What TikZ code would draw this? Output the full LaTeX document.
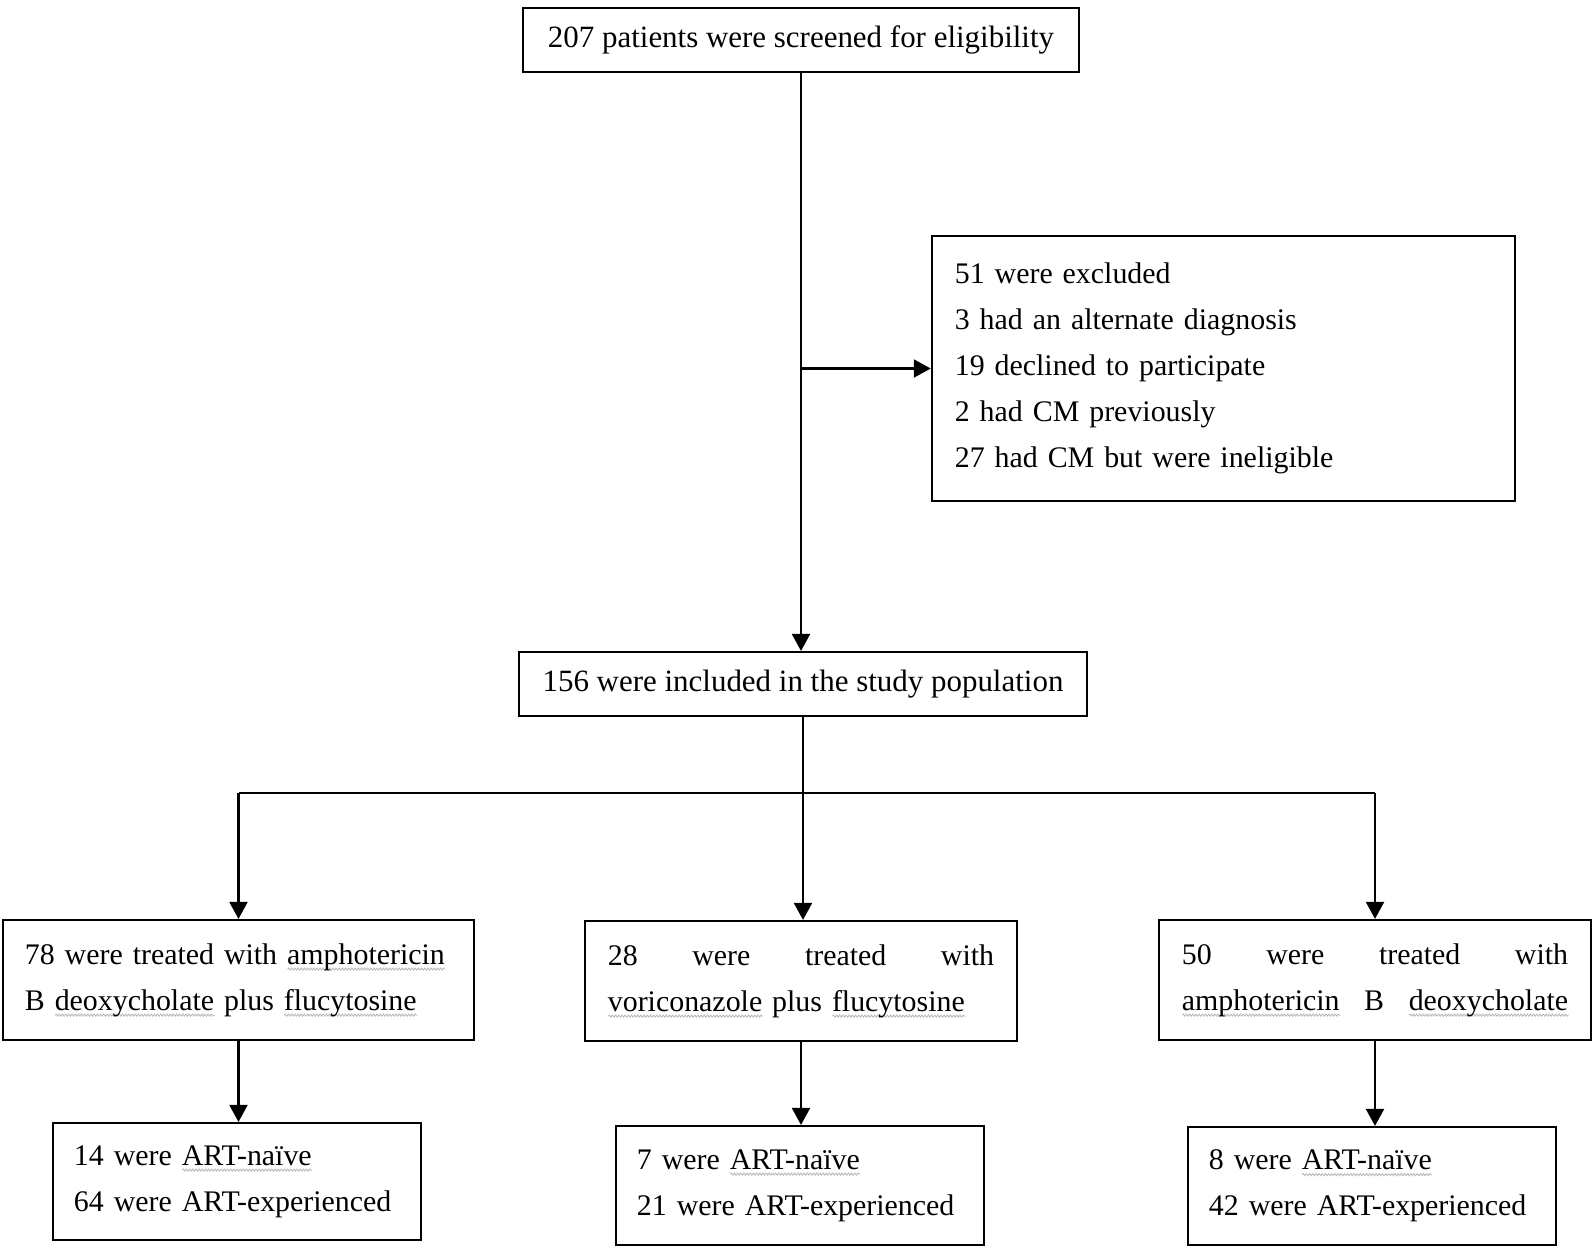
\documentclass[tikz,border=0pt]{standalone}
\usepackage{fontspec}
\setmainfont{Liberation Serif}
\usetikzlibrary{arrows.meta, decorations.pathmorphing}

\newlength\splen
\newcommand\spchk[1]{\leavevmode\settowidth{\splen}{#1}\rlap{\tikz[baseline=0pt]\draw[gray!55, line width=0.25pt, decorate,
    decoration={snake, amplitude=0.3pt, segment length=0.9pt}] (0pt,-1.4pt) -- (\splen,-1.4pt);}#1}

\tikzset{
    box/.style={draw, line width=0.6pt, inner xsep=0pt, inner ysep=0pt, align=left,
                font=\fontsize{8.5}{13.1}\selectfont},
    arr/.style={-{Triangle[length=0.17cm, width=0.18cm]}, line width=0.6pt},
}

\begin{document}
\begin{tikzpicture}[x=0.01cm, y=-0.01cm]
    \useasboundingbox (0,0) rectangle (1593,1250);

    \node[box, align=center, minimum width=5.55cm, minimum height=0.64cm, font=\fontsize{8.8}{13.1}\selectfont] (screened) at (801,40)
        {207 patients were screened for eligibility};
    \node[box, minimum width=5.83cm, minimum height=2.65cm, text width=5.37cm] (excluded) at (1223.5,368.5)
        {51 were excluded\\3 had an alternate diagnosis\\19 declined to participate\\2 had CM previously\\27 had CM but were ineligible};
    \node[box, align=center, minimum width=5.68cm, minimum height=0.64cm, font=\fontsize{8.8}{13.1}\selectfont] (included) at (803,684)
        {156 were included in the study population};

    % treatment groups
    \node[box, minimum width=4.71cm, minimum height=1.2cm, text width=4.27cm] (amphoB) at (238.5,980)
        {78 were treated with \spchk{amphotericin}\\B \spchk{deoxycholate} plus \spchk{flucytosine}};
    \node[box, minimum width=4.32cm, minimum height=1.2cm, text width=3.86cm] (vori) at (801,981)
        {28 \hfill were \hfill treated \hfill with\\\spchk{voriconazole} plus \spchk{flucytosine}};
    \node[box, minimum width=4.32cm, minimum height=1.2cm, text width=3.86cm] (amphoOnly) at (1375,980)
        {50 \hfill were \hfill treated \hfill with\\\spchk{amphotericin} \hfill B \hfill \spchk{deoxycholate}};

    % ART status
    \node[box, minimum width=3.68cm, minimum height=1.17cm, text width=3.26cm] (artA) at (237,1181.5)
        {14 were \spchk{ART-naïve}\\64 were ART-experienced};
    \node[box, minimum width=3.68cm, minimum height=1.19cm, text width=3.26cm] (artB) at (800,1185.5)
        {7 were \spchk{ART-naïve}\\21 were ART-experienced};
    \node[box, minimum width=3.68cm, minimum height=1.18cm, text width=3.26cm] (artC) at (1372,1186)
        {8 were \spchk{ART-naïve}\\42 were ART-experienced};

    \coordinate (fork) at (801,793);

    \draw[arr] (screened.south) -- (screened.south |- included.north);
    \draw[arr] (screened.south |- excluded.west) -- (excluded.west);
    \draw[arr] (included.south) -- (included.south |- vori.north);
    \draw (fork -| amphoB) -- (fork -| amphoOnly);
    \draw[arr] (fork -| amphoB) -- (amphoB.north);
    \draw[arr] (fork -| amphoOnly) -- (amphoOnly.north);

    \draw[arr] (amphoB.south) -- (amphoB.south |- artA.north);
    \draw[arr] (vori.south) -- (vori.south |- artB.north);
    \draw[arr] (amphoOnly.south) -- (amphoOnly.south |- artC.north);
\end{tikzpicture}
\end{document}
